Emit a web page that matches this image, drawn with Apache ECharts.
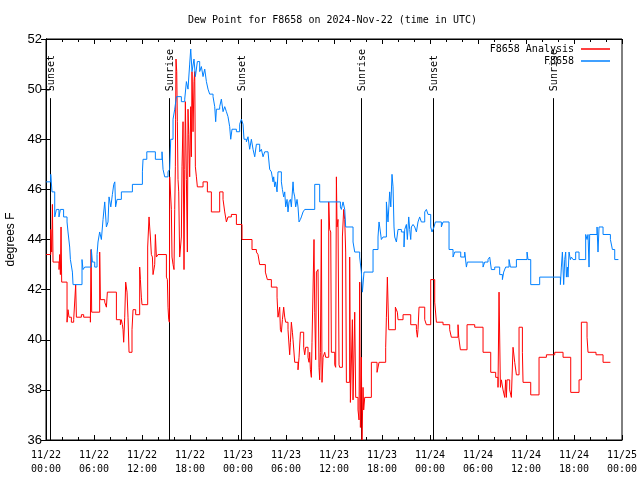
<!DOCTYPE html>
<html><head><meta charset="utf-8">
<script src="https://cdn.jsdelivr.net/npm/echarts@6/dist/echarts.min.js"></script>
<style>html,body{margin:0;padding:0;background:#fff}#c{width:640px;height:480px}</style>
</head><body><div id="c"></div>
<script>
// x values are hours since 2024-11-22 00:00 UTC
const xTickLabels = ['11/22\n00:00','11/22\n06:00','11/22\n12:00','11/22\n18:00','11/23\n00:00','11/23\n06:00','11/23\n12:00','11/23\n18:00','11/24\n00:00','11/24\n06:00','11/24\n12:00','11/24\n18:00','11/25\n00:00'];

const blueT = [0,0.59,0.75,1.09,1.3,1.62,1.8,2.2,2.63,2.75,2.96,3.05,3.3,3.38,4.5,4.63,4.84,5.67,5.8,6.09,6.38,6.5,6.71,6.92,7.13,7.34,7.55,7.75,7.88,8.1,8.3,8.47,8.6,8.7,8.88,9.42,10.8,12.05,12.13,12.6,13.67,14.5,14.63,14.84,15.25,15.46,15.59,15.88,16.09,16.3,16.92,17.34,17.55,17.75,17.96,18.09,18.25,18.5,18.67,18.92,19.21,19.42,19.63,19.84,20.05,20.25,20.46,20.88,21.09,21.21,21.3,21.71,21.92,22.13,22.34,22.55,22.75,22.96,23.09,23.25,23.8,24.21,24.42,24.63,24.75,25.05,25.25,25.46,25.67,25.88,26.09,26.3,26.71,26.92,27.13,27.34,27.75,27.96,28.17,28.38,28.46,28.59,28.71,28.88,29.0,29.42,29.55,29.71,29.84,29.96,30.13,30.25,30.38,30.55,30.67,30.88,30.96,31.09,31.21,31.38,31.5,31.63,31.8,31.92,32.13,32.34,33.59,34.21,36.8,36.92,37.13,37.34,37.46,38.38,38.59,39.21,39.42,39.55,39.75,40.88,41.5,41.63,41.8,41.92,42.13,42.55,42.75,42.96,43.1,43.25,43.38,43.5,43.59,43.8,44.0,44.42,44.75,44.84,45.05,45.17,45.34,45.46,45.59,45.67,45.88,46.09,46.3,46.5,46.71,46.92,47.34,47.55,47.75,48.09,48.25,48.5,48.67,49.42,49.63,50.38,50.88,51.09,51.84,52.34,52.55,52.67,54.63,54.84,55.25,55.46,55.67,56.09,56.71,57.05,57.21,57.46,57.88,58.05,58.8,60.13,60.25,60.59,61.71,64.3,64.42,64.55,64.71,64.84,64.96,65.05,65.17,65.25,65.38,65.55,65.67,65.88,66.21,66.63,67.46,67.63,67.75,67.88,67.96,68.88,69.0,69.13,69.63,70.55,70.8,71.09,71.55];
const blueV = [46.3,46.6,45.9,44.9,45.2,44.9,45.2,44.9,44.7,44.3,43.7,43.2,42.7,42.2,43.2,42.8,42.9,43.6,43.1,42.9,43.4,43.9,44.3,44.0,44.8,45.5,44.5,44.7,45.7,45.3,45.8,46.2,46.3,45.3,45.6,45.9,46.2,46.7,47.2,47.5,47.2,47.5,46.8,46.5,46.7,46.8,48.0,48.8,49.2,49.7,49.5,49.6,50.3,50.0,51.0,51.6,50.7,51.2,50.5,51.1,50.7,50.9,50.5,50.8,50.3,50.0,49.8,49.7,49.3,48.7,49.2,49.3,49.6,49.1,49.3,49.1,48.9,48.5,48.0,48.4,48.3,48.6,48.8,48.6,48.0,47.9,48.1,47.6,48.0,47.6,47.3,47.8,47.5,47.6,47.3,47.5,47.5,46.8,46.7,46.3,46.5,46.1,46.3,45.9,46.7,46.3,46.0,45.7,45.9,45.3,45.6,45.1,45.5,45.6,45.3,46.3,45.9,45.7,45.3,45.6,45.3,44.7,44.8,44.9,45.1,45.2,46.2,45.5,45.3,45.2,45.5,45.2,44.5,43.9,43.5,43.3,42.7,41.9,42.7,43.6,44.1,44.7,44.3,44.0,44.1,45.5,44.7,45.9,45.3,46.6,46.1,44.5,44.1,43.9,44.4,44.3,43.7,44.4,44.6,44.0,44.9,44.4,44.0,44.5,44.6,44.5,44.3,44.7,44.9,44.7,45.1,45.2,45.0,44.5,44.3,44.5,44.7,44.5,44.7,43.6,43.3,43.5,43.3,43.5,42.9,43.1,42.9,43.1,43.2,43.3,42.8,42.9,42.6,42.4,42.7,42.9,43.2,42.9,43.2,43.5,43.2,42.2,42.5,42.2,42.9,43.5,42.2,43.2,43.5,42.5,42.9,42.5,43.5,43.2,43.3,43.2,43.5,43.2,44.2,44.0,44.2,42.9,44.2,44.5,43.5,44.5,44.2,44.0,43.6,43.2,43.2];

const redT = [0,0.59,0.71,0.8,0.88,1.63,1.71,1.8,1.88,1.96,2.63,2.75,2.88,3.17,3.46,3.71,3.8,4.42,4.71,5.55,5.63,5.71,6.71,6.8,7.34,7.55,7.67,8.8,9.3,9.42,9.55,9.63,9.71,9.84,9.96,10.13,10.25,10.38,10.75,10.88,11.21,11.71,11.8,11.92,12.0,12.71,12.88,12.96,13.05,13.17,13.3,13.38,13.59,13.67,13.8,14.0,15.05,15.17,15.25,15.34,15.42,15.46,15.67,15.75,15.88,16.0,16.09,16.17,16.2,16.25,16.34,16.42,16.5,16.59,16.71,16.92,17.0,17.13,17.25,17.34,17.42,17.55,17.67,17.75,17.84,17.96,18.09,18.17,18.25,18.38,18.5,18.59,18.67,18.8,18.92,19.63,20.17,20.67,21.71,22.13,22.34,22.55,22.75,23.17,23.8,24.5,25.75,26.3,26.5,26.71,27.42,27.67,28.17,28.88,29.0,29.21,29.3,29.42,29.55,29.71,29.84,29.96,30.25,30.46,30.55,30.67,30.8,30.88,31.09,31.5,31.63,31.8,32.21,32.34,32.46,32.75,32.88,32.96,33.05,33.17,33.25,33.5,33.59,33.71,33.8,34.0,34.13,34.21,34.3,34.42,34.5,34.63,34.84,34.96,35.34,35.46,35.59,35.67,36.09,36.21,36.3,36.38,36.5,36.63,36.71,37.05,37.21,37.34,37.46,37.55,37.96,38.05,38.3,38.38,38.59,38.71,39.0,39.13,39.21,39.3,39.42,39.5,39.63,39.71,39.84,40.67,41.38,41.63,42.46,42.55,42.67,42.84,43.67,43.92,44.0,44.63,45.59,46.3,46.42,46.5,46.63,47.34,47.55,48.09,48.59,48.8,49.63,50.46,50.67,51.5,51.59,51.8,52.63,53.59,54.63,55.59,56.21,56.5,56.63,56.8,56.92,57.13,57.34,57.46,57.55,57.63,57.96,58.17,58.38,58.59,58.8,59.13,59.55,59.63,60.59,61.63,62.55,63.59,64.63,65.59,66.63,66.92,67.63,67.75,68.75,69.63,70.55];
const redV = [43.4,44.4,43.5,45.4,43.1,42.8,43.4,42.6,44.5,42.3,40.7,41.2,40.9,40.7,40.8,42.2,40.9,41.0,40.9,40.7,43.6,41.1,43.5,41.6,41.5,41.3,41.9,40.8,40.6,40.8,40.6,40.4,39.9,40.9,42.3,41.9,40.9,39.5,40.4,41.2,41.0,42.9,42.4,41.7,41.4,43.7,44.9,44.5,44.1,43.4,43.3,42.6,43.0,44.2,43.3,43.4,42.5,42.4,41.3,40.8,40.7,46.5,45.2,43.3,43.0,42.8,45.2,46.9,48.8,51.2,50.7,48.7,46.4,45.9,43.3,44.1,46.9,48.7,42.8,46.8,49.5,46.4,43.5,49.2,48.2,46.5,49.3,47.3,50.7,48.3,50.3,50.7,46.9,46.5,46.1,46.3,45.9,45.1,45.9,45.6,45.1,44.7,44.9,45.0,44.6,44.0,43.6,43.5,43.4,43.0,42.7,42.4,42.1,41.7,40.9,41.3,40.4,40.3,40.8,41.3,40.9,40.7,40.4,39.4,39.9,40.7,40.3,40.0,39.1,38.8,39.3,40.3,39.7,39.4,39.7,39.3,39.1,39.5,38.8,38.5,39.9,44.0,41.1,39.2,42.7,42.8,38.9,38.4,39.5,44.8,38.3,39.3,39.5,39.3,45.5,44.4,44.3,39.5,39.0,38.9,46.5,44.5,44.8,39.0,38.9,44.1,45.2,44.8,43.5,38.3,43.3,37.5,40.8,37.6,41.1,37.7,37.2,36.8,42.3,36.5,39.3,36.0,38.1,37.2,37.7,39.1,38.7,39.1,39.7,40.9,42.5,40.4,41.3,41.1,40.8,41.0,40.6,40.4,40.1,40.4,41.3,40.8,40.6,42.4,41.5,40.7,40.6,40.4,40.1,40.6,40.1,39.6,40.6,40.5,39.5,38.7,38.5,38.1,41.9,38.1,38.4,38.0,37.7,38.4,37.7,38.4,38.0,37.7,39.7,39.1,38.6,40.5,39.5,38.3,37.8,39.3,39.4,39.5,39.3,37.9,38.4,40.7,40.1,39.5,39.4,39.1,39.1];

const eventNames = ['Sunset','Sunrise','Sunset','Sunrise','Sunset','Sunrise'];
const eventT = [0.45, 15.375, 24.375, 39.375, 48.375, 63.375];
const eventTop = 49.64;

const mono = 'DejaVu Sans Mono';
const sans = 'Liberation Sans';
const zip = (a, b) => a.map((t, i) => [t, b[i]]);

const chart = echarts.init(document.getElementById('c'), null, {renderer: 'canvas'});
const xCommon = {
  type: 'value', min: 0, max: 72, interval: 6,
  axisLine: {show: true, lineStyle: {color: '#000', width: 1}},
  axisTick: {show: true, inside: true, length: 5, lineStyle: {color: '#000'}},
  minorTick: {show: true, splitNumber: 3, length: 3, lineStyle: {color: '#000'}},
  splitLine: {show: false}, minorSplitLine: {show: false}
};
const yCommon = {
  type: 'value', min: 36, max: 52, interval: 2,
  axisLine: {show: true, lineStyle: {color: '#000', width: 1}},
  axisTick: {show: true, inside: true, length: 5, lineStyle: {color: '#000'}},
  splitLine: {show: false}
};
const option = {
  animation: false,
  backgroundColor: '#fff',
  title: {
    text: 'Dew Point for F8658 on 2024-Nov-22 (time in UTC)',
    left: 188, top: 15, padding: 0,
    textStyle: {fontFamily: mono, fontSize: 10, fontWeight: 'normal', color: '#000'}
  },
  legend: [
    {data: [{name: 'F8658 Analysis', icon: 'rect'}], right: 30, top: 44, padding: 0, align: 'right',
     itemWidth: 29, itemHeight: 1.5, itemGap: 0, textStyle: {fontFamily: mono, fontSize: 10, color: '#000', padding: [0, 2, 0, 0]}},
    {data: [{name: 'F8658', icon: 'rect'}], right: 30, top: 56, padding: 0, align: 'right',
     itemWidth: 29, itemHeight: 1.5, itemGap: 0, textStyle: {fontFamily: mono, fontSize: 10, color: '#000', padding: [0, 2, 0, 0]}}
  ],
  grid: {left: 46, right: 18, top: 39, bottom: 40, show: true, borderColor: '#000', borderWidth: 1,
         backgroundColor: 'transparent', containLabel: false, outerBoundsMode: 'none'},
  xAxis: [
    Object.assign({}, xCommon, {position: 'bottom',
      axisLabel: {show: true, margin: 8, color: '#000', fontFamily: mono, fontSize: 10, lineHeight: 14,
        formatter: v => xTickLabels[Math.round(v / 6)] || ''}}),
    Object.assign({}, xCommon, {position: 'top', axisLabel: {show: false}})
  ],
  yAxis: [
    Object.assign({}, yCommon, {position: 'left',
      name: 'degrees F', nameLocation: 'middle', nameRotate: 90, nameGap: 29,
      nameTextStyle: {fontFamily: sans, fontSize: 12, color: '#000'},
      axisLabel: {show: true, margin: 4, color: '#000', fontFamily: sans, fontSize: 13}}),
    Object.assign({}, yCommon, {position: 'right', axisLabel: {show: false}})
  ],
  series: [
    {
      type: 'custom', name: 'events', xAxisIndex: 0, yAxisIndex: 0, silent: true, z: 1,
      data: eventT.map((t, i) => [t, i]),
      renderItem: (params, api) => {
        const t = api.value(0), i = api.value(1);
        const p0 = api.coord([t, 36]), p1 = api.coord([t, eventTop]);
        const x = Math.round(p0[0]) + 0.5;
        return {type: 'group', children: [
          {type: 'line', shape: {x1: x, y1: p0[1], x2: x, y2: p1[1]}, style: {stroke: '#000', lineWidth: 1}},
          {type: 'text', x: x + 1, y: p1[1] - 7, rotation: Math.PI / 2,
           style: {text: eventNames[i], fill: '#000', font: '10px ' + mono, align: 'left', verticalAlign: 'middle'}}
        ]};
      }
    },
    {
      type: 'line', name: 'F8658 Analysis', xAxisIndex: 0, yAxisIndex: 0, z: 2,
      data: zip(redT, redV), step: 'end', showSymbol: false, symbol: 'none',
      color: '#ff0000', lineStyle: {color: '#ff0000', width: 1}
    },
    {
      type: 'line', name: 'F8658', xAxisIndex: 0, yAxisIndex: 0, z: 3,
      data: zip(blueT, blueV), step: 'end', showSymbol: false, symbol: 'none',
      color: '#0080ff', lineStyle: {color: '#0080ff', width: 1}
    }
  ]
};
chart.setOption(option);
</script></body></html>
